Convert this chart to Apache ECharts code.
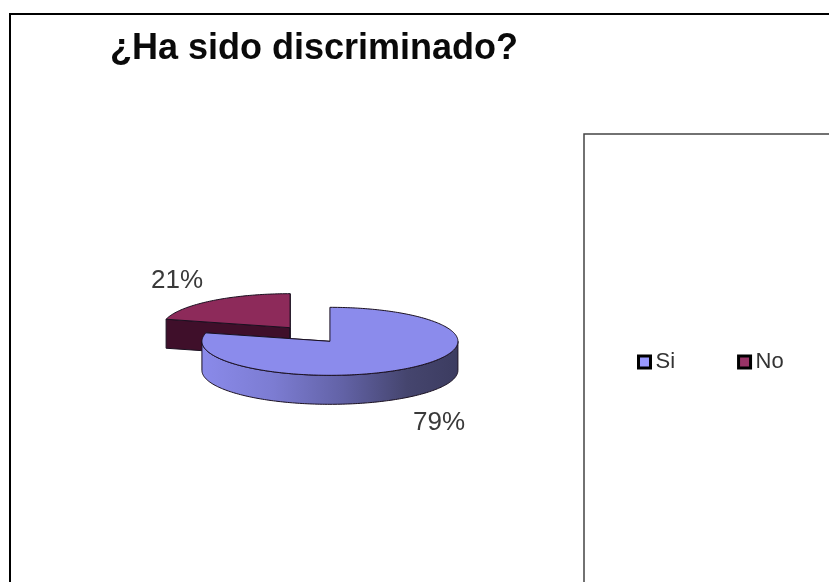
<!DOCTYPE html>
<html>
<head>
<meta charset="utf-8">
<style>html,body{margin:0;padding:0;background:#fff}#c{width:829px;height:582px}</style>
<script src="https://cdn.jsdelivr.net/npm/echarts@6/dist/echarts.min.js"></script>
</head>
<body>
<div id="c"></div>
<script>
const titleText = '¿Ha sido discriminado?';
const categories = ['Si', 'No'];
const values = [79, 21];

const PIE = { cx: 310, cy: 334.5, rx: 128, ry: 34, depth: 29, explode: 32.5 };
const total = values.reduce((a, b) => a + b, 0);
const colors = ['#8b8bec', '#8d2a5a'];
const legendColors = ['#9999ff', '#993366'];
const labelSpots = [[439, 423], [177, 281]];

function pt(c, a, dy) {
  return [c[0] + PIE.rx * Math.sin(a), c[1] - PIE.ry * Math.cos(a) + (dy || 0)];
}
function arc(c, a0, a1, dy) {
  const n = Math.max(2, Math.ceil(Math.abs(a1 - a0) / 0.02));
  const out = [];
  for (let i = 0; i <= n; i++) out.push(pt(c, a0 + (a1 - a0) * i / n, dy));
  return out;
}
function renderSlice(idx) {
  return function () {
    const before = values.slice(0, idx).reduce((a, b) => a + b, 0);
    const a0 = before / total * 2 * Math.PI;
    const a1 = (before + values[idx]) / total * 2 * Math.PI;
    const mid = (a0 + a1) / 2;
    const c = [PIE.cx + PIE.explode * Math.sin(mid),
               PIE.cy - PIE.explode * Math.cos(mid) * PIE.ry / PIE.rx];
    const kids = [];
    const line = { stroke: '#1a1020', lineWidth: 1 };
    // cut wall facing the viewer
    [a0, a1].forEach(a => {
      if (Math.cos(a) > 0 && a > Math.PI) {
        const p = pt(c, a);
        kids.push({ type: 'polygon',
          shape: { points: [c, p, [p[0], p[1] + PIE.depth], [c[0], c[1] + PIE.depth]] },
          style: Object.assign({ fill: '#3f0f2a' }, line) });
      }
    });
    // outer wall: the near half of the rim
    const s = Math.max(a0, Math.PI / 2), e = Math.min(a1, 3 * Math.PI / 2);
    if (e > s) {
      const up = arc(c, s, e, 0), down = arc(c, e, s, PIE.depth);
      kids.push({ type: 'polygon', shape: { points: up.concat(down) },
        style: Object.assign({
          fill: new echarts.graphic.LinearGradient(0, 0, 1, 0, [
            { offset: 0, color: '#8a8aea' },
            { offset: 0.28, color: '#7c7cd2' },
            { offset: 0.55, color: '#6262a6' },
            { offset: 0.8, color: '#45456e' },
            { offset: 1, color: '#3c3c60' }
          ]) }, line) });
    }
    // top face
    kids.push({ type: 'polygon', shape: { points: [c].concat(arc(c, a0, a1, 0)) },
      style: Object.assign({ fill: colors[idx] }, line) });
    kids.push({ type: 'text', z2: 50, style: {
      text: values[idx] + '%', x: labelSpots[idx][0], y: labelSpots[idx][1],
      align: 'center', verticalAlign: 'middle',
      font: '26px "Liberation Sans", Arial, sans-serif', fill: '#3a3a3a' } });
    return { type: 'group', children: kids };
  };
}

const chart = echarts.init(document.getElementById('c'), null, { renderer: 'canvas' });
chart.setOption({
  animation: false,
  backgroundColor: '#fff',
  title: { text: titleText, left: 105, top: 26,
    textStyle: { fontFamily: '"Liberation Sans", Arial, sans-serif', fontWeight: 'bold', fontSize: 36, color: '#0a0a0a' } },
  legend: { data: categories.map((name, i) => ({ name, itemStyle: { color: legendColors[i] } })),
    left: 632, top: 346, itemWidth: 12, itemHeight: 12, itemGap: 62,
    icon: 'rect', selectedMode: false,
    itemStyle: { borderColor: '#000', borderWidth: 3 },
    textStyle: { fontFamily: '"Liberation Sans", Arial, sans-serif', fontSize: 22, color: '#333' } },
  graphic: [
    { type: 'polyline', silent: true, shape: { points: [[10, 582], [10, 14], [829, 14]] },
      style: { stroke: '#000', lineWidth: 2, fill: null } },
    { type: 'polyline', silent: true, shape: { points: [[584, 582], [584, 134], [829, 134]] },
      style: { stroke: '#444', lineWidth: 1.5, fill: null } }
  ],
  series: categories.map((name, i) => ({
    type: 'custom', name, coordinateSystem: 'none', z: 3 - i,
    itemStyle: { color: colors[i] },
    data: [values[i]],
    renderItem: renderSlice(i)
  }))
});
</script>
</body>
</html>
